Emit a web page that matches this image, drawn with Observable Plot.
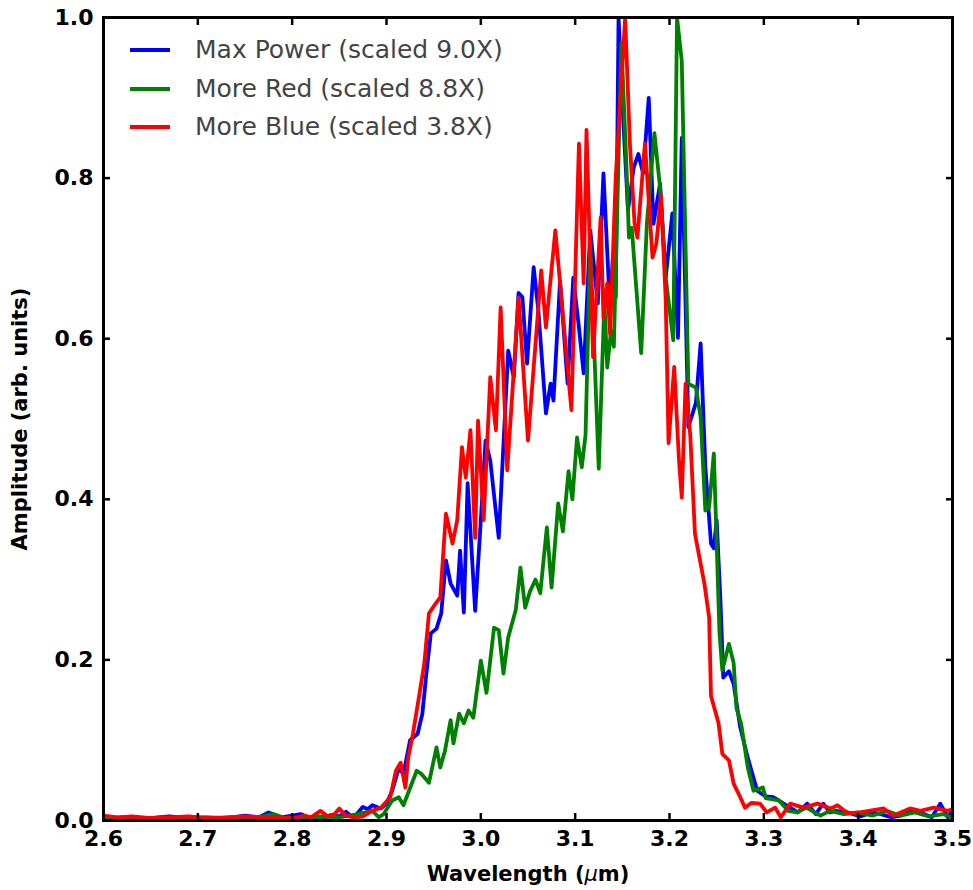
<!DOCTYPE html>
<html>
<head>
<meta charset="utf-8">
<script src="https://cdn.jsdelivr.net/npm/d3@7"></script>
<script src="https://cdn.jsdelivr.net/npm/@observablehq/plot@0.6"></script>
<style>
  html, body { margin: 0; padding: 0; background: white; }
  #wrap { position: relative; width: 973px; height: 890px; }
  .leg-row { position: absolute; left: 0; height: 30px; }
  .leg-line { position: absolute; left: 130px; width: 40px; height: 4px; top: 13px; }
  .leg-text { position: absolute; left: 195px; top: 0; white-space: nowrap; font-family: "DejaVu Sans", sans-serif; font-size: 25px; line-height: 30px; color: #444; }
</style>
</head>
<body>
<div id="wrap"></div>
<script>
// ---- Data ----
const seriesNames = ["Max Power (scaled 9.0X)", "More Red (scaled 8.8X)", "More Blue (scaled 3.8X)"];
const seriesColors = ["#0000ff", "#008000", "#ff0000"];

const xTickValues = [2.6, 2.7, 2.8, 2.9, 3.0, 3.1, 3.2, 3.3, 3.4, 3.5];
const yTickValues = [0.0, 0.2, 0.4, 0.6, 0.8, 1.0];

const maxPowerWl = [2.600,2.615,2.630,2.650,2.670,2.690,2.710,2.730,2.750,2.765,2.775,2.788,2.800,2.809,2.818,2.825,2.835,2.841,2.850,2.857,2.862,2.867,2.875,2.880,2.885,2.894,2.900,2.906,2.913,2.918,2.925,2.933,2.938,2.942,2.947,2.953,2.958,2.963,2.968,2.975,2.978,2.982,2.986,2.994,3.000,3.005,3.010,3.019,3.029,3.035,3.040,3.044,3.049,3.056,3.061,3.069,3.074,3.077,3.084,3.092,3.098,3.104,3.109,3.116,3.124,3.130,3.137,3.140,3.143,3.146,3.151,3.156,3.162,3.167,3.172,3.178,3.183,3.190,3.196,3.203,3.209,3.213,3.220,3.228,3.233,3.238,3.244,3.247,3.250,3.254,3.257,3.263,3.268,3.275,3.283,3.293,3.302,3.310,3.321,3.336,3.346,3.355,3.363,3.370,3.376,3.389,3.402,3.415,3.424,3.435,3.445,3.455,3.466,3.478,3.487,3.495,3.500];
const maxPowerAmp = [0.004,0.002,0.004,0.003,0.005,0.003,0.004,0.003,0.006,0.004,0.010,0.004,0.006,0.008,0.003,0.005,0.004,0.007,0.005,0.011,0.006,0.006,0.017,0.014,0.019,0.015,0.021,0.037,0.065,0.058,0.100,0.108,0.133,0.180,0.233,0.239,0.258,0.324,0.295,0.280,0.336,0.259,0.420,0.261,0.374,0.473,0.448,0.352,0.585,0.552,0.657,0.652,0.569,0.689,0.635,0.507,0.544,0.523,0.672,0.544,0.676,0.614,0.557,0.735,0.644,0.806,0.635,0.701,0.651,1.000,0.872,0.760,0.813,0.830,0.806,0.900,0.743,0.793,0.676,0.756,0.601,0.850,0.490,0.520,0.594,0.440,0.345,0.339,0.374,0.274,0.178,0.186,0.170,0.116,0.078,0.037,0.030,0.029,0.021,0.010,0.021,0.008,0.021,0.010,0.012,0.010,0.005,0.010,0.008,0.004,0.006,0.012,0.010,0.004,0.021,0.004,0.012];

const moreRedWl = [2.600,2.620,2.640,2.660,2.680,2.700,2.720,2.740,2.760,2.780,2.790,2.810,2.830,2.850,2.870,2.885,2.892,2.897,2.906,2.913,2.918,2.932,2.937,2.945,2.953,2.957,2.962,2.968,2.971,2.977,2.982,2.987,2.992,3.000,3.006,3.014,3.019,3.024,3.029,3.037,3.042,3.047,3.052,3.058,3.063,3.070,3.075,3.082,3.087,3.093,3.097,3.102,3.107,3.111,3.116,3.125,3.131,3.134,3.138,3.141,3.149,3.154,3.157,3.160,3.170,3.176,3.184,3.190,3.196,3.204,3.208,3.213,3.220,3.228,3.233,3.238,3.242,3.247,3.253,3.256,3.263,3.268,3.271,3.276,3.283,3.289,3.299,3.302,3.316,3.326,3.335,3.345,3.360,3.370,3.385,3.400,3.415,3.430,3.445,3.460,3.475,3.490,3.500];
const moreRedAmp = [0.003,0.004,0.002,0.004,0.003,0.004,0.003,0.004,0.003,0.008,0.004,0.003,0.005,0.004,0.008,0.012,0.004,0.008,0.025,0.029,0.019,0.062,0.058,0.047,0.091,0.066,0.087,0.125,0.096,0.133,0.121,0.137,0.128,0.199,0.159,0.240,0.237,0.183,0.228,0.262,0.315,0.265,0.285,0.300,0.283,0.365,0.290,0.395,0.360,0.435,0.400,0.477,0.440,0.480,0.718,0.438,0.648,0.564,0.610,0.590,0.968,0.826,0.726,0.738,0.582,0.743,0.856,0.788,0.676,0.598,1.000,0.946,0.544,0.539,0.502,0.386,0.390,0.457,0.233,0.187,0.220,0.196,0.140,0.120,0.066,0.037,0.041,0.028,0.025,0.012,0.010,0.016,0.006,0.012,0.008,0.010,0.006,0.012,0.006,0.010,0.005,0.008,0.003];

const moreBlueWl = [2.600,2.615,2.630,2.650,2.670,2.690,2.710,2.730,2.750,2.770,2.790,2.805,2.813,2.820,2.830,2.838,2.845,2.850,2.857,2.865,2.875,2.885,2.894,2.904,2.910,2.915,2.920,2.923,2.928,2.935,2.940,2.945,2.952,2.957,2.963,2.970,2.975,2.980,2.984,2.989,2.994,2.997,3.003,3.010,3.016,3.021,3.028,3.040,3.050,3.064,3.069,3.079,3.096,3.104,3.109,3.112,3.119,3.127,3.130,3.134,3.137,3.143,3.153,3.158,3.163,3.166,3.174,3.182,3.186,3.191,3.196,3.199,3.205,3.210,3.213,3.217,3.222,3.227,3.237,3.242,3.244,3.252,3.256,3.263,3.268,3.275,3.280,3.287,3.296,3.303,3.312,3.318,3.328,3.342,3.357,3.371,3.378,3.389,3.402,3.427,3.437,3.455,3.466,3.480,3.495,3.500];
const moreBlueAmp = [0.006,0.004,0.005,0.003,0.004,0.005,0.003,0.004,0.005,0.004,0.003,0.004,0.006,0.004,0.012,0.005,0.008,0.015,0.006,0.004,0.005,0.012,0.016,0.029,0.062,0.072,0.041,0.078,0.108,0.158,0.195,0.258,0.270,0.278,0.382,0.345,0.374,0.465,0.427,0.486,0.352,0.498,0.374,0.552,0.486,0.639,0.436,0.651,0.473,0.685,0.614,0.735,0.511,0.843,0.669,0.860,0.577,0.751,0.626,0.669,0.606,0.801,1.000,0.843,0.743,0.726,0.843,0.701,0.718,0.778,0.648,0.470,0.565,0.450,0.402,0.544,0.480,0.357,0.295,0.253,0.155,0.121,0.083,0.075,0.046,0.029,0.016,0.022,0.021,0.010,0.016,0.004,0.021,0.016,0.021,0.015,0.019,0.009,0.010,0.015,0.006,0.015,0.012,0.016,0.012,0.014];

// ---- Build table ----
const seriesWl = [maxPowerWl, moreRedWl, moreBlueWl];
const seriesAmp = [maxPowerAmp, moreRedAmp, moreBlueAmp];
const rows = [];
seriesNames.forEach((name, s) => {
  seriesWl[s].forEach((w, i) => rows.push({wl: w, amp: seriesAmp[s][i], series: name}));
});

const chart = Plot.plot({
  width: 973,
  height: 890,
  marginLeft: 103,
  marginRight: 21,
  marginTop: 17,
  marginBottom: 70,
  style: {fontFamily: "DejaVu Sans", fontWeight: "bold", background: "white", color: "black"},
  x: {domain: [2.6, 3.5]},
  y: {domain: [0, 1]},
  color: {domain: seriesNames, range: seriesColors},
  marks: [
    Plot.line(rows, {x: "wl", y: "amp", z: "series", stroke: "series", strokeWidth: 3.8, strokeLinejoin: "round", clip: true}),
    // inward ticks on all sides
    Plot.axisX(xTickValues, {anchor: "bottom", tickSize: -7, strokeWidth: 2.5, fill: "none", label: null}),
    Plot.axisX(xTickValues, {anchor: "top", tickSize: -7, strokeWidth: 2.5, fill: "none", label: null}),
    Plot.axisY(yTickValues, {anchor: "left", tickSize: -7, strokeWidth: 2.5, fill: "none", label: null}),
    Plot.axisY(yTickValues, {anchor: "right", tickSize: -7, strokeWidth: 2.5, fill: "none", label: null}),
    // tick labels
    Plot.axisX(xTickValues, {anchor: "bottom", tickSize: 0, tickPadding: 10, fontSize: 22, fontWeight: "bold", tickFormat: d => d.toFixed(1), label: null}),
    Plot.axisY(yTickValues, {anchor: "left", tickSize: 0, tickPadding: 10, fontSize: 22, fontWeight: "bold", tickFormat: d => d.toFixed(1), label: null}),
    Plot.frame({stroke: "black", strokeWidth: 3}),
    // axis titles
    Plot.text(["Wavelength (μm)"], {frameAnchor: "bottom", dy: 60, fontSize: 21, fontWeight: "bold", fill: "black", textAnchor: "middle"}),
    Plot.text(["Amplitude (arb. units)"], {frameAnchor: "left", dx: -83, rotate: -90, fontSize: 21, fontWeight: "bold", fill: "black", textAnchor: "middle"})
  ]
});

const wrap = document.getElementById("wrap");
wrap.appendChild(chart);

// italic mu in x label
d3.select(chart).selectAll("text").each(function() {
  if (this.textContent === "Wavelength (μm)") {
    const t = d3.select(this);
    t.text(null);
    t.append("tspan").text("Wavelength (");
    t.append("tspan").attr("font-style", "italic").attr("font-weight", "normal").text("μ");
    t.append("tspan").text("m)");
  }
});

// legend (overlay)
seriesNames.forEach((name, i) => {
  const row = document.createElement("div");
  row.className = "leg-row";
  row.style.top = (35 + i * 38.5) + "px";
  row.style.width = "600px";
  const line = document.createElement("div");
  line.className = "leg-line";
  line.style.background = seriesColors[i];
  const txt = document.createElement("div");
  txt.className = "leg-text";
  txt.textContent = name;
  row.appendChild(line);
  row.appendChild(txt);
  wrap.appendChild(row);
});
</script>
</body>
</html>
